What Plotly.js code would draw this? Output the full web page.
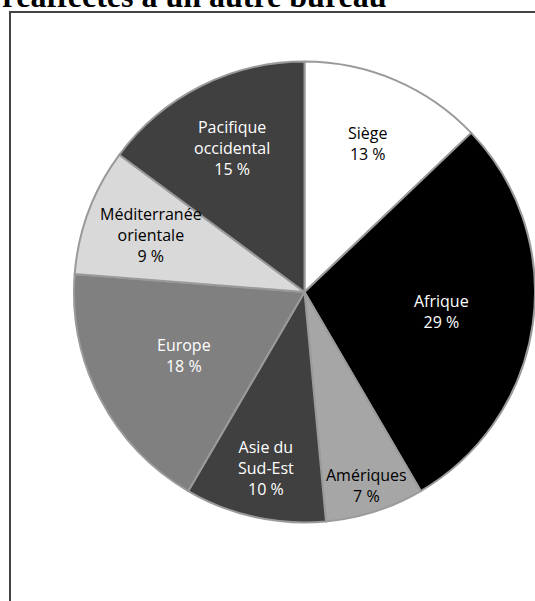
<!DOCTYPE html>
<html>
<head>
<meta charset="utf-8">
<script src="https://cdn.plot.ly/plotly-3.0.1.min.js"></script>
<style>
html,body{margin:0;padding:0;background:#fff;overflow:hidden;}
#chart{width:535px;height:601px;}
</style>
</head>
<body>
<div id="chart"></div>
<script>
var categories = ["Siège", "Afrique", "Amériques", "Asie du<br>Sud-Est", "Europe", "Méditerranée<br>orientale", "Pacifique<br>occidental"];
var values = [13, 29, 7, 10, 18, 9, 15];
var valueLabels = ["13 %", "29 %", "7 %", "10 %", "18 %", "9 %", "15 %"];
var sliceColors = ["#ffffff", "#000000", "#a6a6a6", "#404040", "#808080", "#d9d9d9", "#404040"];
var labelColors = ["#000000", "#ffffff", "#000000", "#ffffff", "#ffffff", "#000000", "#ffffff"];
var labelRadius = [0.70, 0.60, 0.88, 0.78, 0.59, 0.71, 0.70];
var titleText = "réaffectés à un autre bureau";

var W = 535, H = 601;
var dom = {x0: 74, x1: 535, y0: 60, y1: 524};

var trace = {
  type: "pie",
  labels: categories,
  values: values,
  textinfo: "none",
  sort: false,
  direction: "clockwise",
  rotation: 0,
  marker: {colors: sliceColors, line: {color: "#9a9a9a", width: 2}},
  hoverinfo: "none",
  showlegend: false,
  domain: {x: [dom.x0 / W, dom.x1 / W], y: [1 - dom.y1 / H, 1 - dom.y0 / H]}
};

// slice labels placed along each slice's mid-angle
var cx = (dom.x0 + dom.x1) / 2, cy = (dom.y0 + dom.y1) / 2;
var R = Math.min(dom.x1 - dom.x0, dom.y1 - dom.y0) / 2;
var total = values.reduce(function(a, b){ return a + b; }, 0);
var annotations = [];
var cum = 0;
values.forEach(function(v, i){
  var a = (cum + v / 2) / total * 2 * Math.PI;
  cum += v;
  var px = cx + labelRadius[i] * R * Math.sin(a);
  var py = cy - labelRadius[i] * R * Math.cos(a);
  annotations.push({
    text: categories[i] + "<br>" + valueLabels[i],
    xref: "paper", yref: "paper",
    x: px / W, y: 1 - py / H,
    xanchor: "center", yanchor: "middle",
    showarrow: false,
    font: {family: "Open Sans, sans-serif", size: 16, color: labelColors[i]}
  });
});

annotations.push({
  text: "<b>" + titleText + "</b>",
  xref: "paper", yref: "paper",
  x: 0, xanchor: "left",
  y: 1 - 16 / H, yanchor: "bottom",
  showarrow: false,
  font: {family: "Liberation Serif, Times New Roman, serif", size: 32, color: "#000000"}
});

var layout = {
  width: W, height: H,
  margin: {l: 0, r: 0, t: 0, b: 0},
  paper_bgcolor: "#ffffff",
  plot_bgcolor: "#ffffff",
  showlegend: false,
  shapes: [{
    type: "rect", xref: "paper", yref: "paper",
    x0: 10 / W, x1: 1.05, y0: -0.05, y1: 1 - 12 / H,
    line: {color: "#444444", width: 2}, layer: "below"
  }],
  annotations: annotations
};

Plotly.newPlot("chart", [trace], layout, {displayModeBar: false, staticPlot: true});
</script>
</body>
</html>
